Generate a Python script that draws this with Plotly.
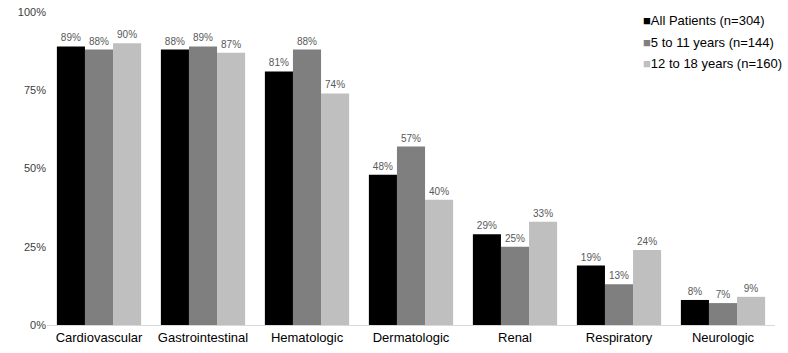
import plotly.graph_objects as go

categories = ["Cardiovascular", "Gastrointestinal", "Hematologic", "Dermatologic",
              "Renal", "Respiratory", "Neurologic"]
all_patients = [89, 88, 81, 48, 29, 19, 8]
age_5_11 = [88, 89, 88, 57, 25, 13, 7]
age_12_18 = [90, 87, 74, 40, 33, 24, 9]
series_names = ["All Patients (n=304)", "5 to 11 years (n=144)", "12 to 18 years (n=160)"]
series_colors = ["#000000", "#7f7f7f", "#bfbfbf"]
y_ticks = [0, 25, 50, 75, 100]

FONT = "Liberation Sans, Arial, sans-serif"

fig = go.Figure()
for name, vals, color in zip(series_names, [all_patients, age_5_11, age_12_18], series_colors):
    fig.add_trace(go.Bar(
        x=categories, y=vals, name=name,
        marker=dict(color=color, line=dict(width=0)),
        text=[f"{v}%" for v in vals], textposition="outside",
        textfont=dict(family=FONT, size=10, color="#595959"),
        cliponaxis=False, showlegend=False,
    ))

# Legend drawn as text rows with a coloured square glyph
legend_y = [0.974, 0.904, 0.837]
for name, color, ly in zip(series_names, series_colors, legend_y):
    fig.add_annotation(
        xref="paper", yref="paper", x=0.816, y=ly, xanchor="left", yanchor="middle",
        text=f"<span style='color:{color}'>■</span>{name}",
        showarrow=False, font=dict(family=FONT, size=13, color="#000000"),
    )

fig.update_layout(
    width=788, height=353,
    margin=dict(l=47, r=13, t=12, b=28, autoexpand=False),
    paper_bgcolor="white", plot_bgcolor="white",
    barmode="group", bargap=0.19, bargroupgap=0,
    font=dict(family=FONT, color="#000000"),
    showlegend=False,
    uniformtext=dict(mode=False),
)
fig.update_xaxes(showline=True, linecolor="#d9d9d9", linewidth=1, ticks="",
                 tickfont=dict(size=13, color="#000000"), showgrid=False, automargin=False)
fig.update_yaxes(range=[0, 100], tickvals=y_ticks, ticktext=[f"{v}%" for v in y_ticks],
                 showgrid=False, zeroline=False, showline=False, automargin=False,
                 tickfont=dict(size=11, color="#404040"), ticklen=0)

fig.write_html("out.html")
